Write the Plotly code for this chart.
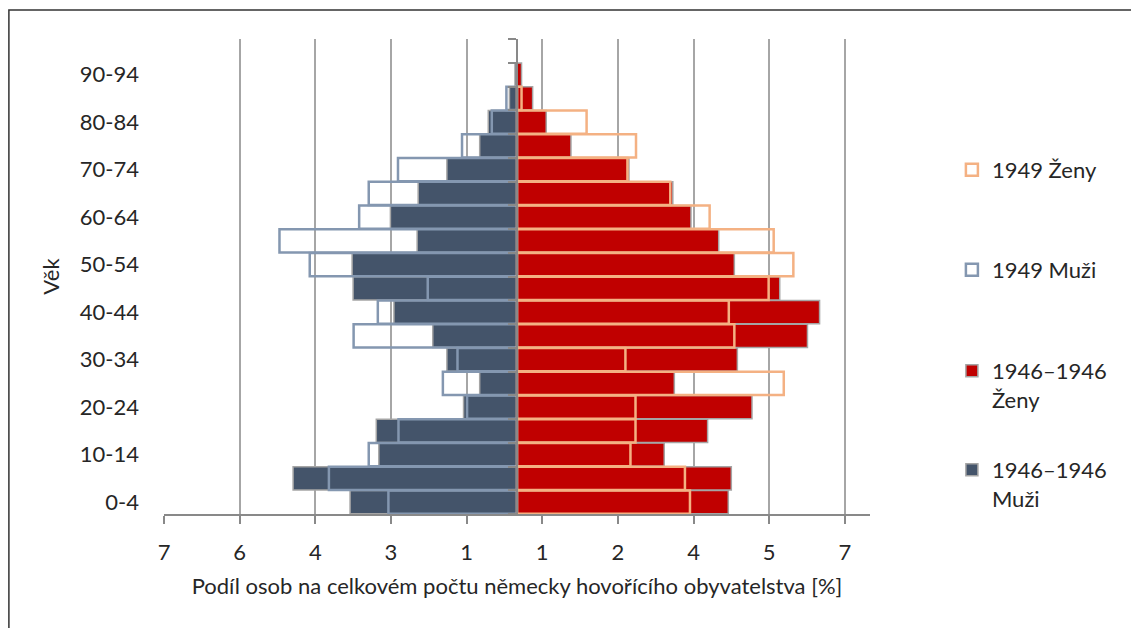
import plotly.graph_objects as go

# Age groups (bottom to top); the top group is empty in the source chart
age_groups = ["0-4", "5-9", "10-14", "15-19", "20-24", "25-29", "30-34", "35-39",
              "40-44", "45-49", "50-54", "55-59", "60-64", "65-69", "70-74",
              "75-79", "80-84", "85-89", "90-94", "95+"]

# Shares in % (men plotted as negative values); None = no visible bar
muzi_1946 = [-3.31, -4.44, -2.74, -2.79, -1.06, -0.74, -1.39, -1.67, -2.44, -3.25,
             -3.27, -1.98, -2.51, -1.96, -1.39, -0.74, -0.57, -0.15, -0.04, None]
zeny_1946 = [4.19, 4.25, 2.92, 3.78, 4.66, 3.12, 4.37, 5.76, 6.00, 5.21,
             4.31, 4.00, 3.45, 3.09, 2.22, 1.07, 0.58, 0.31, 0.09, None]
muzi_1949 = [-2.55, -3.73, -2.94, -2.35, -0.99, -1.47, -1.18, -3.24, -2.76, -1.77,
             -4.11, -4.71, -3.13, -2.94, -2.36, -1.09, -0.50, -0.21, None, None]
zeny_1949 = [3.43, 3.33, 2.25, 2.35, 2.35, 5.29, 2.15, 4.31, 4.20, 4.99,
             5.48, 5.09, 3.82, 3.04, 2.19, 2.36, 1.38, 0.09, None, None]

# X axis: ticks every 1.5 from -7, labels as printed in the source
x_tick_vals = [-7, -5.5, -4, -2.5, -1, 0.5, 2, 3.5, 5, 6.5]
x_tick_text = ["7", "6", "4", "3", "1", "1", "2", "4", "5", "7"]

FONT = "Lato"
TXT = "#262626"
AXIS = "#898989"
GRID = "#a6a6a6"

fig = go.Figure()

fig.add_trace(go.Bar(
    y=age_groups, x=muzi_1946, orientation="h", name="1946–1946<br>Muži",
    marker=dict(color="#44546a", line=dict(color="#a5a5a5", width=1.5)),
    legend="legend4"))
fig.add_trace(go.Bar(
    y=age_groups, x=zeny_1946, orientation="h", name="1946–1946<br>Ženy",
    marker=dict(color="#c00000", line=dict(color="#a5a5a5", width=1.5)),
    legend="legend3"))
fig.add_trace(go.Bar(
    y=age_groups, x=muzi_1949, orientation="h", name="1949 Muži",
    marker=dict(color="rgba(0,0,0,0)", line=dict(color="#8497b0", width=2.5)),
    legend="legend2"))
fig.add_trace(go.Bar(
    y=age_groups, x=zeny_1949, orientation="h", name="1949 Ženy",
    marker=dict(color="rgba(0,0,0,0)", line=dict(color="#f4b183", width=2.5)),
    legend="legend"))
# empty helper trace so the central category axis (yaxis2) is rendered
fig.add_trace(go.Scatter(x=[None], y=[None], yaxis="y2", mode="lines",
                         showlegend=False, hoverinfo="skip"))

legend_common = dict(x=1.116, xanchor="left", yanchor="middle", valign="top",
                     font=dict(family=FONT, size=22, color=TXT),
                     bgcolor="rgba(0,0,0,0)")

fig.update_layout(
    width=1131, height=620,
    margin=dict(l=156, r=269, t=31, b=114),
    paper_bgcolor="white", plot_bgcolor="white",
    barmode="overlay", bargap=0.03,
    showlegend=True,
    font=dict(family=FONT, size=22, color=TXT),
    legend=dict(y=0.7242, **legend_common),
    legend2=dict(y=0.5137, **legend_common),
    legend3=dict(y=0.2705, **legend_common),
    legend4=dict(y=0.0621, **legend_common),
    xaxis=dict(
        range=[-7, 7], tickmode="array", tickvals=x_tick_vals, ticktext=x_tick_text,
        showgrid=True, gridcolor=GRID, gridwidth=1.5, zeroline=False,
        showline=True, linecolor=AXIS, linewidth=2,
        ticks="outside", ticklen=8, tickwidth=1.5, tickcolor=AXIS,
        ticklabelstandoff=10,
        tickfont=dict(family=FONT, size=22, color=TXT),
        title=dict(text="Podíl osob na celkovém počtu německy hovořícího obyvatelstva [%]",
                   font=dict(family=FONT, size=22, color=TXT), standoff=14),
    ),
    yaxis=dict(
        type="category", categoryorder="array", categoryarray=age_groups,
        range=[-0.5, 19.5], tickmode="array", tickvals=age_groups[::2],
        showgrid=False, zeroline=False, showline=False, ticks="",
        ticklabelstandoff=24,
        tickfont=dict(family=FONT, size=22, color=TXT),
        title=dict(text="Věk", font=dict(family=FONT, size=22, color=TXT), standoff=14),
    ),
    yaxis2=dict(
        overlaying="y", anchor="free", position=0.5, side="left",
        type="linear", range=[-0.5, 19.5], tickmode="linear", tick0=-0.5, dtick=1,
        ticks="outside", ticklen=8, tickwidth=1.5, tickcolor=AXIS,
        showline=True, linecolor=AXIS, linewidth=2,
        showticklabels=False, showgrid=False, zeroline=False,
    ),
    shapes=[dict(type="rect", xref="paper", yref="paper",
                 x0=-0.2197, x1=1.45, y0=-0.35, y1=1.061,
                 line=dict(color="#333333", width=1.5), layer="below")],
)

fig.write_html("out.html")
